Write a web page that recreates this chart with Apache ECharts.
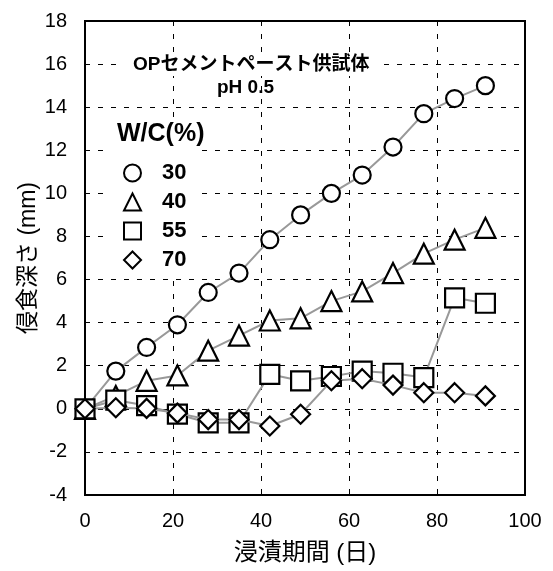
<!DOCTYPE html>
<html>
<head>
<meta charset="utf-8">
<script src="https://cdn.jsdelivr.net/npm/echarts@6/dist/echarts.min.js"></script>
<style>
  html, body { margin: 0; padding: 0; background: #fff; }
  #chart { width: 553px; height: 571px; }
</style>
</head>
<body>
<div id="chart"></div>
<script>
const days = [0, 7, 14, 21, 28, 35, 42, 49, 56, 63, 70, 77, 84, 91]
const wc30 = [0, 1.75, 2.85, 3.9, 5.4, 6.3, 7.85, 9.0, 10.0, 10.85, 12.15, 13.7, 14.4, 15.0]
const wc40 = [0, 0.6, 1.3, 1.55, 2.7, 3.4, 4.1, 4.2, 5.0, 5.45, 6.3, 7.2, 7.85, 8.4]
const wc55 = [0, 0.4, 0.15, -0.25, -0.65, -0.65, 1.6, 1.3, 1.5, 1.75, 1.65, 1.45, 5.15, 4.9]
const wc70 = [0, 0.05, 0.02, -0.2, -0.5, -0.5, -0.8, -0.25, 1.3, 1.4, 1.1, 0.75, 0.75, 0.6]
const seriesNames = ['30', '40', '55', '70']
const symbols = ['circle', 'triangle', 'rect', 'diamond']

const font = '"Liberation Sans", Arial, "Noto Sans CJK JP", sans-serif'
const jpFont = '"Liberation Sans", "Noto Sans CJK JP", sans-serif'

const chart = echarts.init(document.getElementById('chart'))

const pair = arr => days.map((d, i) => [d, arr[i]])
const sizes = [17, 20, 19, 19]

const option = {
    animation: false,
    grid: {
        left: 85, top: 21, right: 28, bottom: 76,
        show: true, borderColor: '#000', borderWidth: 2, backgroundColor: 'transparent'
    },
    xAxis: {
        type: 'value', min: 0, max: 100, interval: 20,
        name: '浸漬期間 (日)', nameLocation: 'middle', nameGap: 46,
        nameMoveOverlap: false,
        nameTextStyle: { fontFamily: jpFont, fontSize: 24, color: '#000' },
        axisLine: { show: true, onZero: false, lineStyle: { color: '#000', width: 2 } },
        axisTick: { show: true, inside: true, length: 5, lineStyle: { color: '#000' } },
        axisLabel: { fontFamily: font, fontSize: 20, color: '#000', margin: 16 },
        splitLine: { show: true, lineStyle: { color: '#000', width: 1, type: [5, 8] } }
    },
    yAxis: {
        type: 'value', min: -4, max: 18, interval: 2,
        name: '侵食深さ (mm)', nameLocation: 'middle', nameGap: 45,
        nameMoveOverlap: false,
        nameTextStyle: { fontFamily: jpFont, fontSize: 23, color: '#000' },
        axisLine: { show: true, onZero: false, lineStyle: { color: '#000', width: 2 } },
        axisTick: { show: true, inside: true, length: 5, lineStyle: { color: '#000' } },
        axisLabel: { fontFamily: font, fontSize: 20, color: '#000', margin: 18 },
        splitLine: { show: true, lineStyle: { color: '#000', width: 1, type: [5, 8] } }
    },
    legend: {
        orient: 'vertical', left: 108, top: 120,
        padding: [42, 10, 8, 15],
        backgroundColor: '#fff',
        itemWidth: 17, itemHeight: 17, itemGap: 7,
        data: seriesNames.map((n, i) => ({ name: n, icon: symbols[i] })),
        itemStyle: { color: '#fff', borderColor: '#000', borderWidth: 2 },
        textStyle: { fontFamily: font, fontSize: 22, fontWeight: 'bold', color: '#000', padding: [0, 0, 0, 16] },
        selectedMode: false
    },
    graphic: [
        { type: 'text', left: 123, top: 53, z: 100, style: { text: 'OPセメントペースト供試体', font: 'bold 19px ' + jpFont, fill: '#000', backgroundColor: '#fff', padding: [2, 10] } },
        { type: 'text', left: 217, top: 78, z: 100, style: { text: 'pH 0.5', font: 'bold 19px ' + font, fill: '#000' } },
        { type: 'text', left: 117, top: 122, z: 100, style: { text: 'W/C(%)', font: 'bold 25px ' + font, fill: '#000' } }
    ],
    series: [wc30, wc40, wc55, wc70].map((arr, i) => ({
        name: seriesNames[i],
        type: 'line',
        data: pair(arr),
        symbol: symbols[i],
        symbolSize: sizes[i],
        showAllSymbol: true,
        lineStyle: { color: '#999', width: 2 },
        itemStyle: { color: '#fff', borderColor: '#000', borderWidth: 2.2 },
        z: 2 + i
    }))
}
chart.setOption(option)
</script>
</body>
</html>
